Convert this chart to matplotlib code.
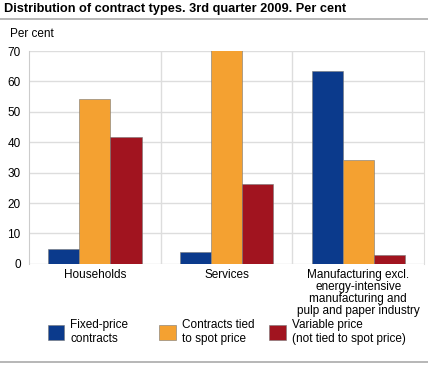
import matplotlib.pyplot as plt
import numpy as np

categories = ["Households", "Services",
              "Manufacturing excl.\nenergy-intensive\nmanufacturing and\npulp and paper industry"]
series = ["Fixed-price\ncontracts", "Contracts tied\nto spot price",
          "Variable price\n(not tied to spot price)"]
fixed = [4.9, 3.8, 63.6]
spot = [54.2, 70.4, 34.1]
variable = [41.8, 26.3, 3.0]
colors = ["#0b3a8c", "#f4a131", "#a1141f"]

plt.rcParams["font.family"] = ["Liberation Sans", "DejaVu Sans"]

fig = plt.figure(figsize=(4.28, 3.65), dpi=100)
ax = fig.add_axes([0.068, 0.277, 0.923, 0.583])

x = np.arange(len(categories))
w = 0.236
bars = []
for i, vals in enumerate([fixed, spot, variable]):
    b = ax.bar(x + (i - 1) * w, vals, w, color=colors[i],
               edgecolor="#777777", linewidth=0.4, zorder=3, label=series[i])
    bars.append(b)

ax.set_xlim(-0.5, 2.5)
ax.set_ylim(0, 70)
ax.set_yticks(range(0, 71, 10))
ax.yaxis.grid(True, color="#dddddd", linewidth=1.0, zorder=0)
for xv in [0.5, 1.5]:
    ax.axvline(xv, color="#dddddd", linewidth=1.0, zorder=0)
ax.set_xticks(x)
ax.set_xticklabels(categories, fontsize=8.5, linespacing=1.0)
ax.tick_params(length=0, labelsize=8.5, pad=4)
ax.tick_params(axis="y", pad=6)
for s in ["top", "bottom"]:
    ax.spines[s].set_visible(False)
ax.spines["left"].set_color("#cccccc")
ax.spines["right"].set_color("#dddddd")

fig.text(0.01, 0.967, "Distribution of contract types. 3rd quarter 2009. Per cent",
         fontsize=9.2, fontweight="bold", va="baseline")
fig.add_artist(plt.Line2D([0, 1], [0.948, 0.948], color="#aaaaaa", linewidth=1.2))
fig.text(0.024, 0.899, "Per cent", fontsize=8.5, va="baseline")
fig.add_artist(plt.Line2D([0, 1], [0.008, 0.008], color="#aaaaaa", linewidth=1.2))

# one legend per entry so each sits where the reference puts it
for b, xpos in zip(bars, [0.112, 0.372, 0.629]):
    fig.legend(handles=[b], loc="center left", bbox_to_anchor=(xpos, 0.09),
               frameon=False, fontsize=8.5, handlelength=1.4, handleheight=1.6,
               handletextpad=0.5, borderpad=0, borderaxespad=0)

fig.savefig("out.png", dpi=100)
